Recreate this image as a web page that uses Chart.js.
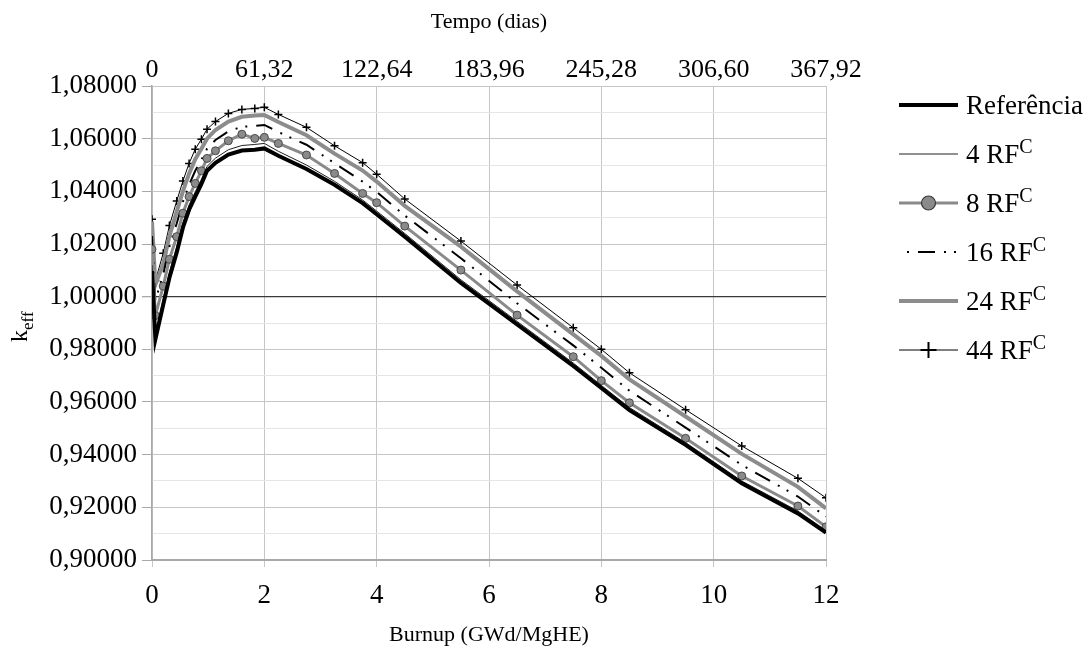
<!DOCTYPE html>
<html><head><meta charset="utf-8">
<script src="https://cdn.jsdelivr.net/npm/chart.js@4.4.0/dist/chart.umd.min.js"></script>
<style>html,body{margin:0;padding:0;background:#fff}canvas{display:block}</style>
</head><body>
<canvas id="c" width="1088" height="648"></canvas>
<script>
// ---- data ----
const burnup = [0, 0.06, 0.2, 0.31, 0.44, 0.55, 0.66, 0.77, 0.88, 0.98, 1.13, 1.36, 1.6, 1.83, 2.0, 2.25, 2.75, 3.25, 3.75, 4.0, 4.5, 5.5, 6.5, 7.5, 8.0, 8.5, 9.5, 10.5, 11.5, 12.0];
const referencia = [1.0097, 0.9838, 0.9970, 1.0072, 1.0168, 1.0262, 1.0330, 1.0380, 1.0428, 1.0478, 1.0508, 1.0540, 1.0555, 1.0558, 1.0563, 1.0535, 1.0485, 1.0425, 1.0355, 1.0313, 1.0228, 1.0052, 0.9895, 0.9737, 0.9653, 0.9569, 0.9437, 0.9291, 0.9177, 0.9104];
const rf4 = [1.0120, 0.9860, 0.9990, 1.0092, 1.0188, 1.0280, 1.0348, 1.0398, 1.0446, 1.0495, 1.0526, 1.0558, 1.0574, 1.0578, 1.0582, 1.0552, 1.0500, 1.0438, 1.0367, 1.0325, 1.0240, 1.0064, 0.9906, 0.9748, 0.9663, 0.9579, 0.9446, 0.9300, 0.9186, 0.9112];
const rf8 = [1.0180, 0.9928, 1.0040, 1.0142, 1.0228, 1.0317, 1.0380, 1.0430, 1.0478, 1.0525, 1.0554, 1.0592, 1.0617, 1.0601, 1.0605, 1.0582, 1.0538, 1.0468, 1.0392, 1.0357, 1.0268, 1.0101, 0.9930, 0.9772, 0.9681, 0.9597, 0.9462, 0.9319, 0.9205, 0.9126];
const rf16 = [1.0230, 0.9985, 1.0085, 1.0190, 1.0278, 1.0360, 1.0425, 1.0478, 1.0520, 1.0562, 1.0595, 1.0628, 1.0645, 1.0648, 1.0652, 1.0625, 1.0577, 1.0507, 1.0437, 1.0398, 1.0308, 1.0146, 0.9975, 0.9815, 0.9730, 0.9643, 0.9503, 0.9361, 0.9241, 0.9165];
const rf24 = [1.0285, 1.0045, 1.0125, 1.0230, 1.0323, 1.0400, 1.0467, 1.0522, 1.0562, 1.0600, 1.0633, 1.0665, 1.0683, 1.0688, 1.0690, 1.0663, 1.0613, 1.0543, 1.0479, 1.0437, 1.0345, 1.0190, 1.0020, 0.9857, 0.9775, 0.9686, 0.9545, 0.9403, 0.9278, 0.9196];
const rf44 = [1.0294, 1.0060, 1.0165, 1.0270, 1.0363, 1.0439, 1.0506, 1.0560, 1.0598, 1.0636, 1.0665, 1.0696, 1.0711, 1.0715, 1.0719, 1.0692, 1.0643, 1.0573, 1.0509, 1.0465, 1.0371, 1.0211, 1.0044, 0.9882, 0.9800, 0.9711, 0.9571, 0.9433, 0.9310, 0.9236];
const burnupTicks = [0, 2, 4, 6, 8, 10, 12];
const tempoLabels = ['0', '61,32', '122,64', '183,96', '245,28', '306,60', '367,92'];
const legendTexts = ['Referência', '4 RF', '8 RF', '16 RF', '24 RF', '44 RF'];
const legendSup = ['', 'C', 'C', 'C', 'C', 'C'];

const FONT = '"Liberation Serif", "Times New Roman", serif';
const pts = arr => burnup.map((b, i) => ({x: b, y: arr[i]}));

const datasets = [
  {label: 'Referência', data: pts(referencia), borderColor: '#000', borderWidth: 4, pointRadius: 0},
  {label: '4 RFC', data: pts(rf4), borderColor: '#222', borderWidth: 1, pointRadius: 0},
  {label: '8 RFC', data: pts(rf8), borderColor: '#8a8a8a', borderWidth: 3, pointStyle: 'circle', pointRadius: 4, pointBackgroundColor: '#8a8a8a', pointBorderColor: '#4a4a4a', pointBorderWidth: 1},
  {label: '16 RFC', data: pts(rf16), borderColor: '#000', borderWidth: 2, borderDash: [17, 9, 2, 8, 2, 9], pointRadius: 0},
  {label: '24 RFC', data: pts(rf24), borderColor: '#8c8c8c', borderWidth: 4, pointRadius: 0},
  {label: '44 RFC', data: pts(rf44), borderColor: '#000', borderWidth: 1, pointStyle: 'cross', pointRadius: 4, pointBorderColor: '#000', pointBorderWidth: 1.5}
];

const isMajor = v => Math.round(v * 100) % 2 === 0;

const bgPlugin = {
  id: 'bg',
  beforeDraw(chart) {
    const c = chart.ctx; c.save(); c.fillStyle = '#fff'; c.fillRect(0, 0, chart.width, chart.height); c.restore();
  }
};

const extraPlugin = {
  id: 'extra',
  afterDraw(chart) {
    const c = chart.ctx;
    c.save();
    // legend
    const y0 = 105, gap = 49, x1 = 899, x2 = 958, tx = 966;
    chart.data.datasets.forEach((ds, i) => {
      const y = y0 + i * gap;
      c.strokeStyle = ds.borderColor; c.lineWidth = ds.borderWidth;
      c.setLineDash(ds.borderDash || []);
      c.lineDashOffset = ds.borderDash ? 28 : 0;
      c.beginPath(); c.moveTo(x1, y); c.lineTo(x2, y); c.stroke();
      c.setLineDash([]);
      const mx = (x1 + x2) / 2;
      if (ds.pointStyle === 'circle') {
        c.beginPath(); c.arc(mx, y, 7, 0, Math.PI * 2);
        c.fillStyle = '#8a8a8a'; c.fill();
        c.lineWidth = 1.2; c.strokeStyle = '#3a3a3a'; c.stroke();
      } else if (ds.pointStyle === 'cross') {
        c.lineWidth = 2; c.strokeStyle = '#000';
        c.beginPath(); c.moveTo(mx - 8, y); c.lineTo(mx + 8, y); c.moveTo(mx, y - 8); c.lineTo(mx, y + 8); c.stroke();
      }
      c.fillStyle = '#000'; c.textAlign = 'left'; c.textBaseline = 'middle';
      c.font = '27px ' + FONT;
      c.fillText(legendTexts[i], tx, y + 2);
      if (legendSup[i]) {
        const w = c.measureText(legendTexts[i]).width;
        c.font = '20px ' + FONT;
        c.fillText(legendSup[i], tx + w, y - 6);
      }
    });
    // y-axis title k_eff
    c.translate(27, 342);
    c.rotate(-Math.PI / 2);
    c.textAlign = 'left'; c.textBaseline = 'alphabetic'; c.fillStyle = '#000';
    c.font = '24px ' + FONT;
    c.fillText('k', 0, 0);
    const kw = c.measureText('k').width;
    c.font = '17px ' + FONT;
    c.fillText('eff', kw, 6);
    c.restore();
  }
};

new Chart(document.getElementById('c'), {
  type: 'line',
  data: {datasets},
  options: {
    responsive: false,
    animation: false,
    devicePixelRatio: 1,
    layout: {padding: {left: 0, right: 262, top: 0, bottom: 0}},
    elements: {line: {tension: 0, fill: false}},
    plugins: {legend: {display: false}, tooltip: {enabled: false}},
    scales: {
      x: {
        type: 'linear', position: 'bottom', min: 0, max: 12,
        afterFit: s => { s.height = 88; },
        afterBuildTicks: s => { s.ticks = burnupTicks.map(v => ({value: v})); },
        ticks: {padding: 13, color: '#000', maxRotation: 0, font: {family: FONT, size: 27}},
        grid: {color: '#c6c6c6', tickColor: '#c6c6c6', tickLength: 7, lineWidth: 1},
        border: {color: '#a8a8a8', width: 2},
        title: {display: true, text: 'Burnup (GWd/MgHE)', color: '#000', font: {family: FONT, size: 22}, padding: {top: 0, bottom: 0}}
      },
      x2: {
        type: 'linear', position: 'top', min: 0, max: 12,
        afterFit: s => { s.height = 86; },
        afterBuildTicks: s => { s.ticks = burnupTicks.map(v => ({value: v})); },
        ticks: {padding: 0, color: '#000', maxRotation: 0, font: {family: FONT, size: 26},
          callback: (v, i) => tempoLabels[i]},
        grid: {display: false, drawTicks: false},
        border: {display: false},
        title: {display: true, text: 'Tempo (dias)', color: '#000', font: {family: FONT, size: 22}, padding: {top: 9, bottom: 0}}
      },
      y: {
        type: 'linear', min: 0.9, max: 1.08,
        afterFit: s => { s.width = 152; },
        ticks: {stepSize: 0.01, autoSkip: false, padding: 5, color: '#000', font: {family: FONT, size: 27},
          callback: v => isMajor(v) ? v.toFixed(5).replace('.', ',') : ''},
        grid: {
          color: ctx => {
            const k = Math.round(ctx.tick.value * 100);
            if (k === 100) return '#3a3a3a';
            return k % 2 === 0 ? '#c6c6c6' : '#e6e6e6';
          },
          tickColor: ctx => isMajor(ctx.tick.value) ? '#a8a8a8' : 'rgba(0,0,0,0)',
          tickLength: 10,
          lineWidth: ctx => Math.round(ctx.tick.value * 100) === 100 ? 1.3 : 1
        },
        border: {color: '#a8a8a8', width: 1.5}
      }
    }
  },
  plugins: [bgPlugin, extraPlugin]
});
</script>
</body></html>
